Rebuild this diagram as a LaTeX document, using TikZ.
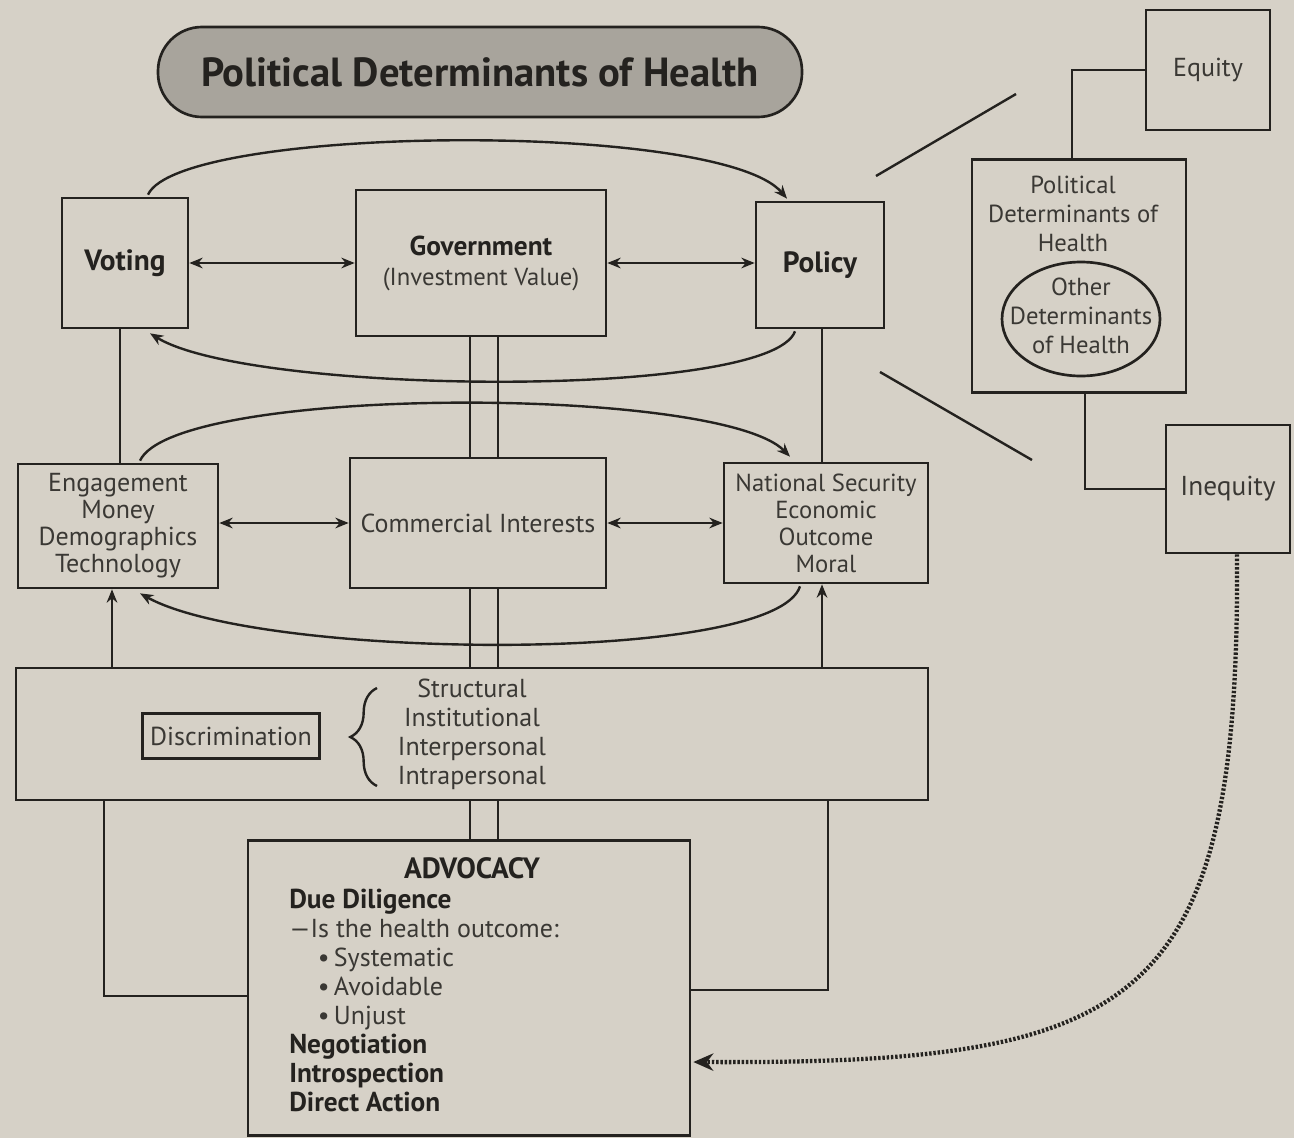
\documentclass[tikz,border=0pt]{standalone}
\usepackage{fontspec}
\setmainfont{PT Sans}
\usetikzlibrary{arrows.meta,calc,shapes.geometric,decorations.pathreplacing}

\definecolor{paper}{RGB}{214,209,199}
\definecolor{pill}{RGB}{168,164,156}
\definecolor{ink}{RGB}{36,34,31}
\definecolor{softink}{RGB}{58,56,52}

\newcommand{\bodyfont}{\fontsize{19.5}{20.25}\selectfont}
\newcommand{\headfont}{\fontsize{22}{24}\selectfont\bfseries}

\tikzset{
  sz/.style 2 args={minimum width=#1*0.75pt, minimum height=#2*0.75pt},
  box/.style={draw=ink, line width=2pt, inner sep=2pt, align=center, text=softink, font=\bodyfont},
  link/.style={draw=ink, line width=1.8pt},
  flow/.style={link, -{Stealth[length=10pt,width=8pt]}},
  both/.style={link, {Stealth[length=10pt,width=8pt]}-{Stealth[length=10pt,width=8pt]}},
  hint/.style={draw=ink, line width=3.2pt, dash pattern=on 1.8pt off 1.4pt, -{Stealth[length=15pt,width=13pt]}},
}

\begin{document}
\begin{tikzpicture}[x=0.75pt,y=0.75pt,yscale=-1,xscale=1]
  \fill[paper] (0,0) rectangle (1294,1138);
  \useasboundingbox (0,0) rectangle (1294,1138);

  % title
  \node[box, sz={644}{90}, rounded corners=33pt, fill=pill, text=ink, font=\fontsize{30.5}{34}\selectfont\bfseries] (title) at (480,72) {Political Determinants of Health};

  % top row
  \node[box, sz={126}{130}, text=ink, font=\headfont] (voting) at (125,263) {Voting};
  \node[box, sz={250}{146}, font=\fontsize{18.5}{22.5}\selectfont] (govt) at (481,263) {{\fontsize{20.5}{22.5}\selectfont\bfseries\color{ink}Government}\\(Investment Value)};
  \node[box, sz={128}{126}, text=ink, font=\headfont] (policy) at (820,265) {Policy};

  % middle row
  \node[box, sz={200}{124}] (engage) at (118,526) {Engagement\\Money\\Demographics\\Technology};
  \node[box, sz={256}{130}] (commerce) at (478,523) {Commercial Interests};
  \node[box, sz={204}{120}, font=\fontsize{18.5}{20.25}\selectfont] (natsec) at (826,523) {National Security\\Economic\\Outcome\\Moral};

  % discrimination band
  \node[box, sz={912}{132}] (band) at (472,734) {};
  \node[box, sz={177}{45}, line width=1.6pt] (discrim) at (231,736) {Discrimination};
  \node[align=center, text=softink, font=\fontsize{19.5}{21.75}\selectfont] (levels) at (472,734) {Structural\\Institutional\\Interpersonal\\Intrapersonal};
  \draw[link, decorate, decoration={brace, amplitude=20pt}] (377,786) -- (377,688);

  % advocacy
  \node[box, sz={442}{295}] (advocacy) at (469,988) {};
  \node[text=ink, font=\headfont] (advhead) at (472,868) {ADVOCACY};
  \node[anchor=north west, align=left, inner sep=0pt, text=softink, font=\fontsize{19.5}{21.75}\selectfont] (advtext) at (289,889) {%
    {\fontsize{20.5}{21.75}\selectfont\bfseries\color{ink}Due Diligence}\\
    —Is the health outcome:\\
    \hspace*{1.1em}•\,Systematic\\
    \hspace*{1.1em}•\,Avoidable\\
    \hspace*{1.1em}•\,Unjust\\
    {\fontsize{20.5}{21.75}\selectfont\bfseries\color{ink}Negotiation}\\
    {\fontsize{20.5}{21.75}\selectfont\bfseries\color{ink}Introspection}\\
    {\fontsize{20.5}{21.75}\selectfont\bfseries\color{ink}Direct Action}};

  % right side
  \node[box, sz={124}{120}] (equity) at (1208,70) {Equity};
  \node[box, sz={214}{233}] (pdoh) at (1079,276) {};
  \node[align=center, text=softink, font=\fontsize{18.5}{21.75}\selectfont] (pdohtext) at (1073,214) {Political\\Determinants of\\Health};
  \node[draw=ink, line width=2pt, ellipse, sz={158}{114}] (otherdoh) at (1081,319) {};
  \node[align=center, text=softink, font=\fontsize{18.5}{22}\selectfont] (othertext) at (1081,316) {Other\\Determinants\\of Health};
  \node[box, sz={124}{128}, font=\fontsize{20.5}{22}\selectfont] (inequity) at (1228,489) {Inequity};

  % rails and plain links
  \coordinate (railL) at (470,0);
  \coordinate (railR) at (498,0);
  \coordinate (vline) at (120,0);
  \coordinate (pline) at (822,0);
  \coordinate (upL) at (112,0);
  \coordinate (dropL) at (104,0);
  \coordinate (dropR) at (828,0);
  \foreach \r in {railL,railR} {
    \draw[link] (govt.south -| \r) -- (commerce.north -| \r);
    \draw[link] (commerce.south -| \r) -- (band.north -| \r);
    \draw[link] (band.south -| \r) -- (advocacy.north -| \r);
  }
  \draw[link] (voting.south -| vline) -- (engage.north -| vline);
  \draw[link] (policy.south -| pline) -- (natsec.north -| pline);
  \draw[flow] (band.north -| upL) -- (engage.south -| upL);
  \draw[flow] (band.north -| pline) -- (natsec.south -| pline);
  \draw[link] (band.south -| dropL) |- ($(advocacy.west)+(0,8)$);
  \draw[link] (band.south -| dropR) |- ($(advocacy.east)+(0,2)$);

  % two-way arrows
  \draw[both] (voting.east) -- (voting.east -| govt.west);
  \draw[both] (govt.east) -- (govt.east -| policy.west);
  \draw[both] (commerce.west -| engage.east) -- (commerce.west);
  \draw[both] (commerce.east) -- (commerce.east -| natsec.west);

  % loops
  \draw[flow] ($(voting.north)+(23,-2)$) .. controls (180,125) and (720,120) .. ($(policy.north)+(-33,-2)$);
  \draw[flow] ($(policy.south)+(-25,2)$) .. controls (770,400) and (250,395) .. ($(voting.south)+(25,4)$);
  \draw[flow] ($(engage.north)+(22,-2)$) .. controls (175,385) and (720,385) .. ($(natsec.north)+(-36,-5)$);
  \draw[flow] ($(natsec.south)+(-26,2)$) .. controls (775,665) and (260,660) .. ($(engage.south)+(22,4)$);

  % right side links
  \draw[link] (equity.west) -| ($(pdoh.north)+(-7,0)$);
  \draw[link] ($(pdoh.south)+(6,0)$) |- (inequity.west);
  \draw[link] (876,176) -- (1016,94);
  \draw[link] (880,372) -- (1032,460);
  \draw[hint] ($(inequity.south)+(9,0)$) .. controls (1240,1010) and (1140,1064) .. ($(advocacy.east)+(2,74)$);
\end{tikzpicture}
\end{document}
